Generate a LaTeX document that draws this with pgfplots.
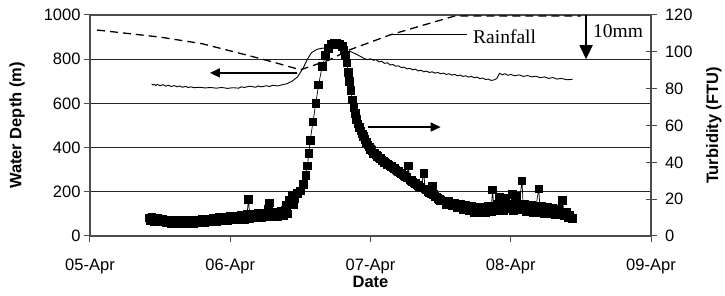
\documentclass[border=0pt]{standalone}
\usepackage{fontspec}
\setmainfont{Liberation Serif}
\setsansfont{Liberation Sans}
\usepackage{pgfplots}
\usepackage{pgfplotstable}
\pgfplotsset{compat=1.18}
\usetikzlibrary{arrows.meta}

\pgfplotstableread{
d v
0.44 688
0.45 683
0.46 686
0.47 681
0.48 686
0.50 680
0.52 685
0.54 678
0.56 682
0.58 676
0.60 681
0.62 675
0.64 679
0.66 673
0.68 677
0.70 672
0.72 675
0.74 671
0.78 673
0.82 670
0.86 672
0.90 669
0.94 672
0.98 668
1.02 671
1.06 669
1.08 675
1.10 672
1.14 678
1.18 673
1.20 679
1.22 675
1.26 680
1.28 676
1.30 682
1.34 679
1.38 686
1.40 688
1.44 700
1.48 720
1.52 760
1.55 800
1.58 830
1.62 845
1.66 850
1.70 848
1.74 852
1.78 846
1.82 836
1.86 834
1.90 822
1.93 812
1.96 802
1.98 798
2.00 802
2.02 795
2.04 798
2.06 788
2.08 790
2.10 781
2.12 784
2.14 774
2.16 776
2.18 768
2.20 770
2.22 762
2.24 764
2.26 756
2.28 759
2.30 752
2.32 755
2.34 747
2.36 750
2.38 743
2.40 746
2.42 740
2.44 743
2.46 737
2.48 740
2.50 734
2.52 737
2.54 731
2.56 734
2.58 728
2.60 731
2.62 725
2.64 728
2.66 722
2.68 725
2.70 719
2.72 722
2.74 716
2.76 719
2.78 712
2.80 715
2.82 708
2.84 710
2.86 704
2.88 706
2.90 712
2.92 736
2.94 730
2.96 734
2.98 727
3.00 731
3.03 725
3.06 729
3.09 722
3.12 726
3.15 720
3.18 723
3.21 716
3.24 720
3.27 713
3.30 717
3.33 710
3.36 713
3.40 707
3.44 709
}\depthdata

\pgfplotstableread{
d v
0.05 932
0.50 900
0.80 870
1.14 815
1.30 788
1.50 752
1.70 795
1.85 842
2.14 910
2.50 977
2.60 995
3.50 995
}\raindata

\pgfplotstableread{
d t
0.42 9.8
0.43 8.2
0.44 10.0
0.46 8.0
0.48 9.6
0.50 7.6
0.52 9.0
0.54 7.2
0.56 8.8
0.58 7.0
0.60 8.6
0.62 6.8
0.64 8.4
0.66 7.0
0.68 8.6
0.70 6.8
0.72 8.4
0.74 7.0
0.76 8.8
0.78 7.2
0.80 9.2
0.82 7.4
0.84 9.0
0.86 7.8
0.88 9.6
0.90 7.8
0.92 10.0
0.94 8.2
0.96 10.2
0.98 8.4
1.00 10.6
1.02 8.8
1.04 11.0
1.06 9.0
1.08 11.4
1.10 9.2
1.12 11.8
1.13 20.0
1.14 9.6
1.16 12.0
1.18 9.8
1.20 12.6
1.22 10.0
1.24 12.4
1.26 10.4
1.27 14.5
1.28 18.0
1.30 10.6
1.32 13.2
1.34 10.8
1.36 13.6
1.38 11.2
1.39 14.0
1.40 16.5
1.41 12.0
1.42 19.5
1.44 22.0
1.45 17.0
1.46 20.5
1.48 23.0
1.50 24.5
1.52 28.0
1.54 33.0
1.55 38.0
1.56 45.0
1.57 52.0
1.59 62.0
1.61 72.0
1.63 82.0
1.655 92.0
1.68 98.0
1.70 102.0
1.72 104.0
1.74 104.5
1.76 104.5
1.78 104.0
1.80 103.0
1.81 101.0
1.82 98.0
1.83 94.0
1.84 89.0
1.85 84.0
1.86 79.0
1.87 74.0
1.88 70.0
1.89 66.5
1.90 63.5
1.91 61.0
1.92 59.0
1.93 57.0
1.94 55.5
1.95 54.0
1.96 52.5
1.97 51.0
1.98 49.5
1.99 48.5
2.00 47.0
2.01 46.5
2.02 45.0
2.03 44.8
2.04 44.0
2.05 43.2
2.06 42.5
2.07 42.0
2.08 41.0
2.09 40.8
2.10 40.0
2.11 39.8
2.12 39.0
2.13 38.6
2.14 38.0
2.15 37.8
2.16 37.0
2.17 36.6
2.18 36.0
2.19 35.4
2.20 35.0
2.21 34.2
2.22 34.0
2.23 33.2
2.24 33.0
2.25 32.2
2.26 32.0
2.27 38.0
2.28 30.5
2.29 30.2
2.30 29.5
2.31 28.8
2.32 28.5
2.33 27.8
2.34 27.5
2.35 26.6
2.36 26.5
2.38 34.0
2.39 25.5
2.40 25.0
2.41 24.2
2.42 23.5
2.43 23.0
2.44 27.0
2.45 22.5
2.46 21.5
2.47 21.2
2.48 20.5
2.49 19.8
2.50 19.5
2.52 19.0
2.54 17.2
2.56 18.8
2.58 16.4
2.60 17.6
2.62 15.4
2.64 17.4
2.66 14.4
2.68 16.6
2.70 13.6
2.72 16.0
2.74 13.0
2.76 15.6
2.78 12.8
2.80 15.6
2.82 13.0
2.84 16.4
2.86 13.4
2.87 25.0
2.88 14.6
2.90 17.5
2.91 13.6
2.92 21.0
2.94 16.0
2.95 13.8
2.96 20.5
2.98 14.8
3.00 17.4
3.01 22.5
3.02 14.0
3.04 21.5
3.05 14.4
3.06 17.0
3.08 30.0
3.09 14.5
3.10 17.5
3.11 13.4
3.12 16.5
3.14 13.2
3.15 16.8
3.16 13.0
3.18 16.4
3.20 25.5
3.21 12.8
3.22 16.0
3.24 12.4
3.26 15.6
3.28 12.0
3.30 15.0
3.32 11.8
3.34 14.6
3.36 11.6
3.37 19.5
3.38 11.2
3.40 12.8
3.41 10.0
3.42 11.2
3.44 9.5
}\turbdata

\begin{document}
\begin{tikzpicture}
\begin{axis}[
  name=main,
  width=561pt, height=221pt, scale only axis,
  xmin=0, xmax=4, ymin=0, ymax=1000,
  xtick={0,1,2,3,4},
  xticklabels={05-Apr,06-Apr,07-Apr,08-Apr,09-Apr},
  ytick={0,200,400,600,800,1000},
  tick pos=left, tick align=outside, major tick length=6pt,
  ymajorgrids, grid style={black!85, line width=0.8pt},
  axis line style={black!70, line width=1.3pt},
  tick style={black!70, line width=1pt},
  ticklabel style={font=\sffamily\fontsize{16.5}{18}\selectfont},
  xticklabel style={yshift=-13pt},
  /pgf/number format/assume math mode=true,
  /pgf/number format/1000 sep={},
  label style={font=\sffamily\bfseries\fontsize{16.5}{18}\selectfont},
  xlabel={Date},
  xlabel style={at={(axis description cs:0.5,-0.235)}, anchor=base},
  ylabel={Water Depth (m)},
  ylabel style={at={(axis description cs:-0.130,0.5)}, anchor=center, rotate=0},
]
\addplot[black, line width=0.9pt, no marks] table[x=d, y=v] {\depthdata};
\addplot[black, line width=1.3pt, dash pattern=on 8pt off 5pt, no marks] table[x=d, y=v] {\raindata};
\draw[-{Triangle[length=10pt,width=9pt]}, line width=1.5pt] (axis cs:1.475,738) -- (axis cs:0.855,738);
\draw[-{Triangle[length=10pt,width=9pt]}, line width=1.5pt] (axis cs:1.98,493) -- (axis cs:2.50,493);
\draw[line width=1.2pt] (axis cs:2.16,910) -- (axis cs:2.69,910);
\node[anchor=base west, inner sep=0pt, font=\fontsize{19.5}{22}\selectfont] at (axis cs:2.731,873) {Rainfall};
\draw[-{Triangle[length=14pt,width=13pt]}, line width=1.5pt] (axis cs:3.537,1000) -- (axis cs:3.537,800);
\node[anchor=base west, inner sep=0pt, font=\fontsize{19.5}{22}\selectfont] at (axis cs:3.586,899) {10mm};
\end{axis}
\begin{axis}[
  width=561pt, height=221pt, scale only axis,
  xmin=0, xmax=4, ymin=0, ymax=120,
  axis y line*=right, axis x line=none,
  ytick={0,20,40,60,80,100,120},
  ytick align=center, major tick length=11pt,
  axis line style={black!70, line width=1.3pt},
  tick style={black!70, line width=1pt},
  ticklabel style={font=\sffamily\fontsize{16.5}{18}\selectfont},
  yticklabel style={xshift=5pt},
  /pgf/number format/assume math mode=true,
  label style={font=\sffamily\bfseries\fontsize{16.5}{18}\selectfont},
  ylabel={Turbidity (FTU)},
  ylabel style={at={(axis description cs:1.112,0.5)}, anchor=center, rotate=0},
]
\addplot[black, line width=0.7pt, mark=square*, mark size=3.8pt, mark options={solid}] table[x=d, y=t] {\turbdata};
\end{axis}
\path (-90pt,-60pt) rectangle (635pt,236pt);
\end{tikzpicture}
\end{document}
